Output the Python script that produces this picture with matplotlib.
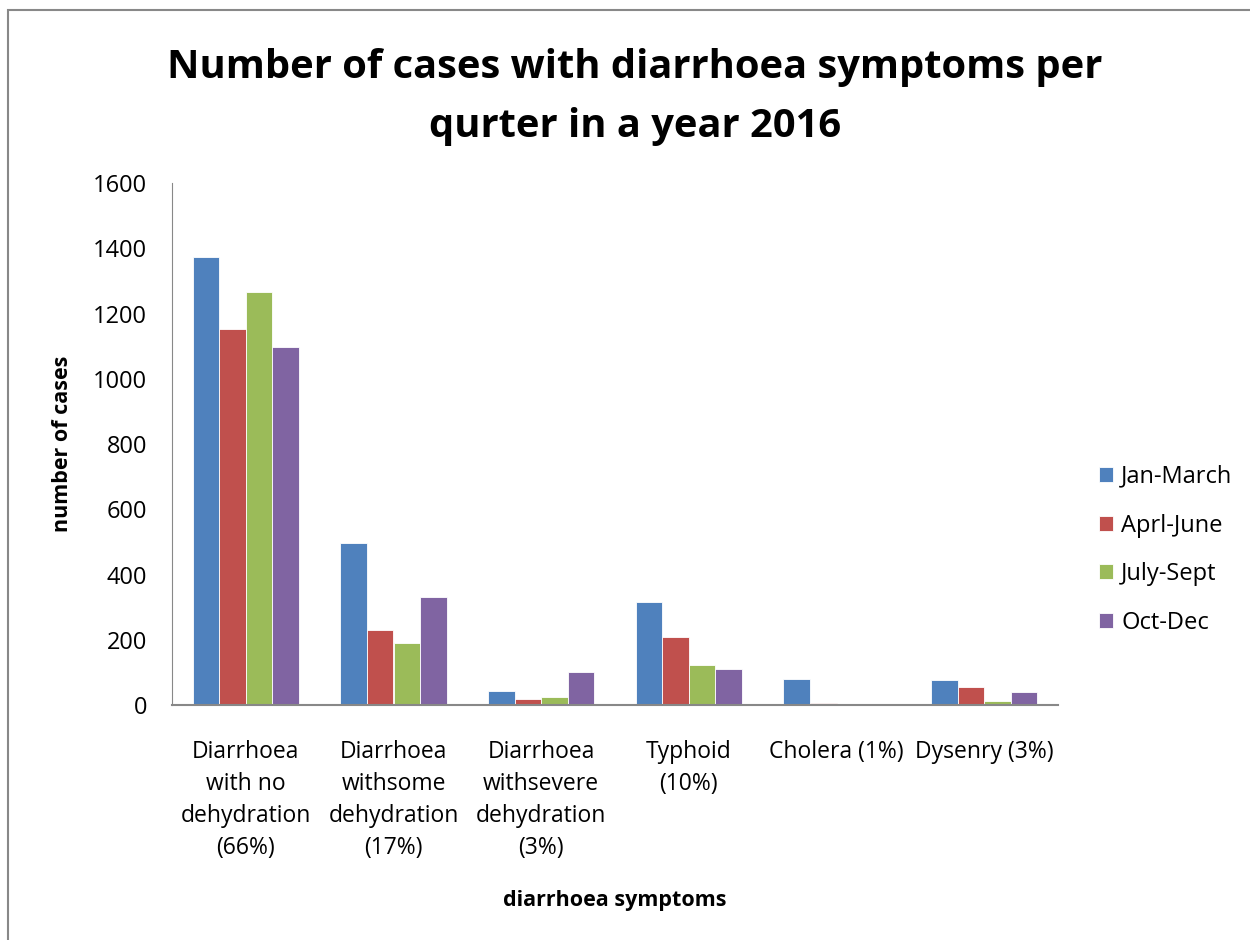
import matplotlib
matplotlib.use("Agg")
import matplotlib.pyplot as plt
import numpy as np
from matplotlib.patches import Rectangle

categories = ["Diarrhoea\nwith no\ndehydration\n(66%)",
              "Diarrhoea\nwithsome\ndehydration\n(17%)",
              "Diarrhoea\nwithsevere\ndehydration\n(3%)",
              "Typhoid\n(10%)",
              "Cholera (1%)",
              "Dysenry (3%)"]
series_names = ["Jan-March", "Aprl-June", "July-Sept", "Oct-Dec"]
jan_march = [1374, 498, 44, 316, 79, 76]
aprl_june = [1154, 229, 17, 209, 6, 56]
july_sept = [1267, 189, 25, 123, 0, 12]
oct_dec = [1098, 330, 100, 111, 0, 40]
colors = ["#4F81BD", "#C0504D", "#9BBB59", "#8064A2"]
yticks = [0, 200, 400, 600, 800, 1000, 1200, 1400, 1600]

plt.rcParams['font.family'] = ['Open Sans', 'DejaVu Sans']

fig = plt.figure(figsize=(12.5, 9.4), dpi=100)
ax = fig.add_axes([0.1376, 0.25, 0.7088, 0.5553])

# frame
fig.patches.append(Rectangle((0.0065, -0.01), 1.2, 0.9995 - 0.0105 + 0.01, transform=fig.transFigure,
                             fill=False, edgecolor="#888888", linewidth=1.5))

x = np.arange(len(categories))
w = 0.18
all_series = [jan_march, aprl_june, july_sept, oct_dec]
for i, (vals, name, c) in enumerate(zip(all_series, series_names, colors)):
    ax.bar(x + (i - 1.5) * w, vals, width=w, color=c, label=name,
           edgecolor="white", linewidth=0.6)

ax.set_xlim(-0.5, len(categories) - 0.5)
ax.set_ylim(0, 1600)
ax.set_yticks(yticks)
ax.set_xticks(x)
ax.set_xticklabels(categories, fontsize=16.5, linespacing=1.45)
ax.tick_params(axis='y', labelsize=17, length=0, pad=18)
ax.tick_params(axis='x', length=0, pad=25)
for s in ["top", "right"]:
    ax.spines[s].set_visible(False)
ax.spines["left"].set_color("#888888")
ax.spines["bottom"].set_color("#888888")
ax.spines["bottom"].set_linewidth(1.5)

ax.set_ylabel("number of cases", fontsize=15.5, fontweight="bold", labelpad=14)
fig.text(0.492, 0.042, "diarrhoea symptoms", fontsize=15.5, fontweight="bold", ha="center", va="center")

fig.text(0.508, 0.897, "Number of cases with diarrhoea symptoms per\nqurter in a year 2016",
         fontsize=28.7, fontweight="bold", ha="center", va="center", linespacing=1.65)

leg = fig.legend(loc="center left", bbox_to_anchor=(0.862, 0.415), frameon=False,
                 fontsize=17, handlelength=0.6, handleheight=0.6, labelspacing=1.05,
                 handletextpad=0.35)

fig.savefig("out.png", dpi=100)
